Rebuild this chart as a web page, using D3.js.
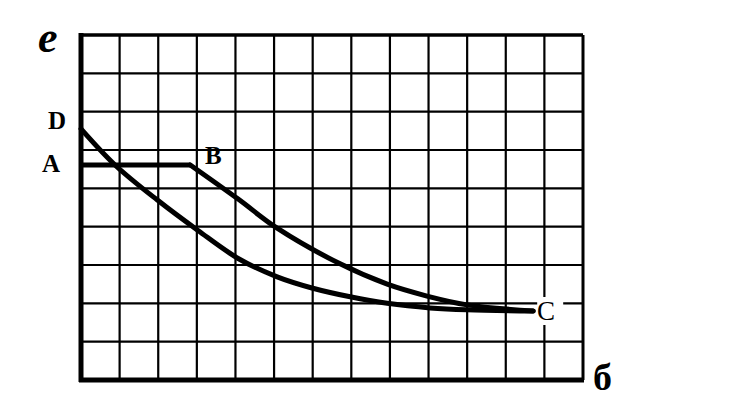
<!DOCTYPE html>
<html>
<head>
<meta charset="utf-8">
<script src="https://cdn.jsdelivr.net/npm/d3@7"></script>
<style>
  html, body { margin: 0; padding: 0; background: #fff; }
  svg { display: block; }
  text { font-family: "Liberation Serif", "DejaVu Serif", serif; fill: #000; }
</style>
</head>
<body>
<svg id="chart" width="732" height="412"></svg>
<script>
// Grid: 13 columns x 9 rows (arbitrary units)
const xGrid = d3.range(0, 14);   // vertical grid line positions
const yGrid = d3.range(0, 10);   // horizontal grid line positions

// Curve A–B (flat) then B–C (x, y in grid units)
const curveAB_x = [0, 2.83];
const curveAB_y = [5.61, 5.61];
const curveBC_x = [2.83, 4.07, 5.08, 6.71, 7.93, 8.96, 10.0, 11.71];
const curveBC_y = [5.61, 4.72, 3.96, 3.03, 2.50, 2.19, 1.96, 1.80];

// Curve D–C
const curveDC_x = [0, 0.88, 1.97, 3.03, 4.07, 5.08, 5.98, 6.97, 7.93, 9.04, 10.0, 11.71];
const curveDC_y = [6.55, 5.61, 4.70, 3.90, 3.17, 2.69, 2.40, 2.17, 2.0, 1.88, 1.83, 1.80];

// Point labels
const pointLabels = ["D", "A", "B", "C"];
const axisLabels = ["e", "б"];

const svg = d3.select("#chart");
const x = d3.scaleLinear().domain([0, 13]).range([81, 583]);
const y = d3.scaleLinear().domain([0, 9]).range([380, 35]);

// grid lines
const g = svg.append("g");
g.selectAll("line.v").data(xGrid.slice(1, -1)).join("line")
  .attr("x1", d => x(d)).attr("x2", d => x(d))
  .attr("y1", y(9)).attr("y2", y(0))
  .attr("stroke", "#000").attr("stroke-width", 2.2);
g.selectAll("line.h").data(yGrid.slice(1, -1)).join("line")
  .attr("x1", x(0)).attr("x2", x(13))
  .attr("y1", d => y(d)).attr("y2", d => y(d))
  .attr("stroke", "#000").attr("stroke-width", 2.2);

// border: top & right thinner, left & bottom (axes) thick
g.append("line").attr("x1", x(0)).attr("x2", x(13)).attr("y1", y(9)).attr("y2", y(9))
  .attr("stroke", "#000").attr("stroke-width", 3.5);
g.append("line").attr("x1", x(13)).attr("x2", x(13)).attr("y1", y(9)).attr("y2", y(0))
  .attr("stroke", "#000").attr("stroke-width", 3);
g.append("line").attr("x1", x(0)).attr("x2", x(0)).attr("y1", y(9) - 2).attr("y2", y(0) + 2)
  .attr("stroke", "#000").attr("stroke-width", 5);
g.append("line").attr("x1", x(0) - 2).attr("x2", x(13) + 1).attr("y1", y(0)).attr("y2", y(0))
  .attr("stroke", "#000").attr("stroke-width", 5);

// curves
const straight = d3.line().x(d => x(d[0])).y(d => y(d[1]));
const smooth = d3.line().x(d => x(d[0])).y(d => y(d[1])).curve(d3.curveCatmullRom.alpha(0.5));
const ab = curveAB_x.map((v, i) => [v, curveAB_y[i]]);
const bc = curveBC_x.map((v, i) => [v, curveBC_y[i]]);
const dc = curveDC_x.map((v, i) => [v, curveDC_y[i]]);
svg.append("path").attr("d", straight(ab)).attr("fill", "none")
  .attr("stroke", "#000").attr("stroke-width", 5);
svg.append("path").attr("d", smooth(bc)).attr("fill", "none")
  .attr("stroke", "#000").attr("stroke-width", 5).attr("stroke-linecap", "round");
svg.append("path").attr("d", smooth(dc)).attr("fill", "none")
  .attr("stroke", "#000").attr("stroke-width", 5).attr("stroke-linecap", "round");

// white background behind C label
svg.append("rect").attr("x", x(11.71) + 4).attr("y", y(1.8) - 14)
  .attr("width", 26).attr("height", 28).attr("fill", "#fff");

// point labels
const lab = svg.append("g").attr("font-weight", "bold");
lab.append("text").attr("x", 48).attr("y", 129).attr("font-size", 25).text(pointLabels[0]);
lab.append("text").attr("x", 42).attr("y", 172).attr("font-size", 25).text(pointLabels[1]);
lab.append("text").attr("x", 205).attr("y", 164).attr("font-size", 25).text(pointLabels[2]);
lab.append("text").attr("x", 537).attr("y", 320).attr("font-size", 27).attr("font-weight", "normal").text(pointLabels[3]);

// axis labels
svg.append("text").attr("x", 38).attr("y", 52).attr("font-size", 44)
  .attr("font-style", "italic").attr("font-weight", "bold").text(axisLabels[0]);
svg.append("text").attr("x", 593).attr("y", 390).attr("font-size", 38)
  .attr("font-weight", "bold").text(axisLabels[1]);
</script>
</body>
</html>
